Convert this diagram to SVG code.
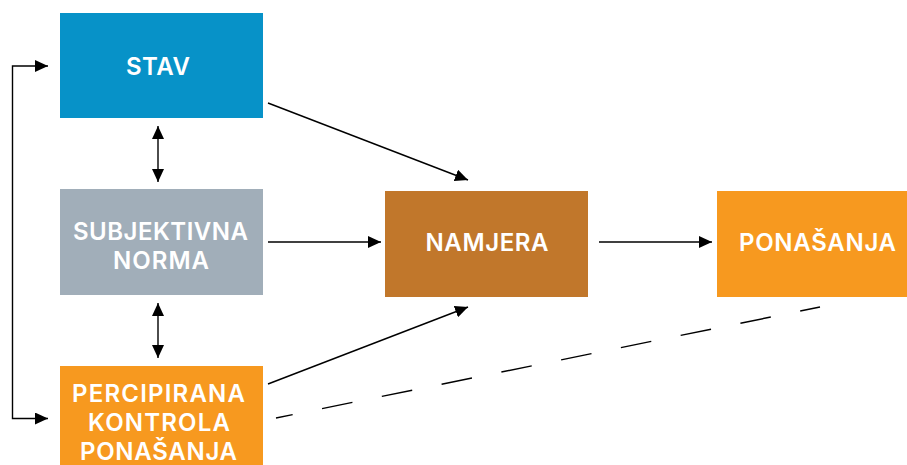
<svg xmlns="http://www.w3.org/2000/svg" width="907" height="465" viewBox="0 0 907 465">
<style>
.lbl{font-family:Inter,"Open Sans","Liberation Sans",sans-serif;font-weight:600;font-size:24px;fill:#ffffff;text-anchor:middle}
.con{stroke:#000;stroke-width:1.4;fill:none}
</style>
<defs>
<marker id="ah" markerUnits="userSpaceOnUse" markerWidth="14" markerHeight="12" refX="13" refY="6" orient="auto-start-reverse">
<path d="M0,0 L13,6 L0,12 Z" fill="#000"/>
</marker>
</defs>
<rect width="907" height="465" fill="#fff"/>
<g id="stav"><rect x="60" y="13" width="203" height="105" fill="#0792C8"/><text class="lbl" x="158" y="75" textLength="64">STAV</text></g>
<g id="subjektivna-norma"><rect x="60" y="189" width="203" height="106" fill="#A1AEB9"/><text class="lbl" x="160.5" y="239.5" textLength="175">SUBJEKTIVNA</text><text class="lbl" x="161" y="268.5" textLength="96">NORMA</text></g>
<g id="percipirana-kontrola"><rect x="60" y="366" width="203" height="99" fill="#F7991F"/><text class="lbl" x="158.5" y="401.5" textLength="173">PERCIPIRANA</text><text class="lbl" x="159" y="430.5" textLength="142">KONTROLA</text><text class="lbl" x="158.5" y="459.5" textLength="157">PONAŠANJA</text></g>
<g id="namjera"><rect x="385" y="191" width="203" height="106" fill="#C1772B"/><text class="lbl" x="487" y="251" textLength="123">NAMJERA</text></g>
<g id="ponasanja"><rect x="717" y="191" width="195" height="106" fill="#F7991F"/><text class="lbl" x="817.5" y="250.5" textLength="157">PONAŠANJA</text></g>
<g id="connectors">
<path class="con" d="M48,66 H12.5 V418.5 H48" marker-start="url(#ah)" marker-end="url(#ah)"/>
<line class="con" x1="158" y1="126" x2="158" y2="182" marker-start="url(#ah)" marker-end="url(#ah)"/>
<line class="con" x1="158" y1="303" x2="158" y2="358" marker-start="url(#ah)" marker-end="url(#ah)"/>
<line class="con" x1="268" y1="103" x2="468" y2="180" marker-end="url(#ah)"/>
<line class="con" x1="268" y1="242" x2="381" y2="242" marker-end="url(#ah)"/>
<line class="con" x1="268" y1="384" x2="468" y2="307" marker-end="url(#ah)"/>
<line class="con" x1="599" y1="242" x2="712" y2="242" marker-end="url(#ah)"/>
<line class="con" x1="276" y1="418" x2="820" y2="307" stroke-dasharray="31 30" stroke-dashoffset="14"/>
</g>
</svg>
